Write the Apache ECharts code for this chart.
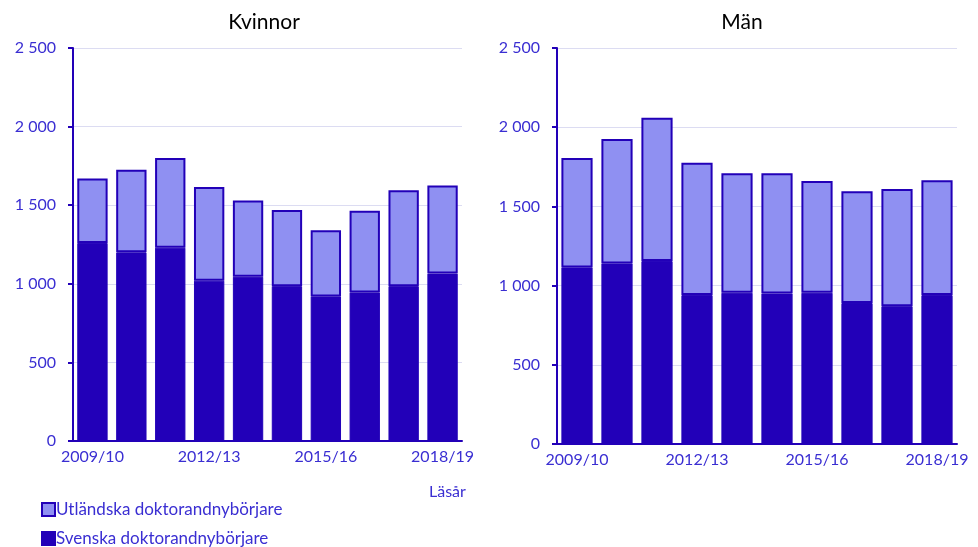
<!DOCTYPE html>
<html>
<head>
<meta charset="utf-8">
<script src="https://cdn.jsdelivr.net/npm/echarts@6/dist/echarts.min.js"></script>
<style>
  html, body { margin: 0; padding: 0; background: #fff; }
  #chart { width: 978px; height: 547px; }
</style>
</head>
<body>
<div id="chart"></div>
<script>
// läsår
var years = ['2009/10', '2010/11', '2011/12', '2012/13', '2013/14', '2014/15', '2015/16', '2016/17', '2017/18', '2018/19'];

// Kvinnor
var kvinnorSvenska = [1260, 1200, 1230, 1020, 1045, 985, 920, 945, 985, 1065];
var kvinnorUtl = [410, 525, 570, 595, 485, 485, 420, 520, 610, 560];

// Män
var manSvenska = [1115, 1140, 1155, 940, 955, 950, 955, 890, 870, 940];
var manUtl = [690, 785, 905, 835, 755, 760, 705, 705, 740, 725];

var dark = '#2200b8';
var light = '#8f90f2';
var textBlue = '#3a2ed2';
var font = 'Lato';

function fmt(v) {
    if (v >= 1000) {
        var r = String(v % 1000);
        while (r.length < 3) r = '0' + r;
        return Math.floor(v / 1000) + ' ' + r;
    }
    return String(v);
}

function xAx(idx) {
    return {
        type: 'category',
        gridIndex: idx,
        data: years,
        axisLine: { lineStyle: { color: dark, width: 2 } },
        axisTick: { show: false },
        axisLabel: { interval: 2, color: textBlue, fontFamily: font, fontSize: 16, margin: 8 }
    };
}

function yAx(idx) {
    return {
        type: 'value',
        gridIndex: idx,
        min: 0, max: 2500, interval: 500,
        axisLine: { show: true, lineStyle: { color: dark, width: 2 } },
        axisTick: { show: true, length: 5, lineStyle: { color: dark, width: 2 } },
        axisLabel: { color: textBlue, fontFamily: font, fontSize: 16, margin: 17, formatter: fmt },
        splitLine: { lineStyle: { color: '#dcdcf2', width: 1 } }
    };
}

function bar(name, data, idx, color, bw) {
    return {
        name: name,
        type: 'bar',
        stack: 's' + idx,
        xAxisIndex: idx,
        yAxisIndex: idx,
        data: data,
        barCategoryGap: '22%',
        itemStyle: { color: color, borderColor: dark, borderWidth: bw }
    };
}

function leg(name, top) {
    return {
        left: 36, top: top,
        icon: 'rect',
        itemWidth: 13, itemHeight: 13,
        data: [name],
        textStyle: { color: textBlue, fontFamily: font, fontSize: 17, padding: [0, 0, 0, -4] }
    };
}

var myChart = echarts.init(document.getElementById('chart'));
var option = {
    animation: false,
    backgroundColor: '#fff',
    title: [
        { text: 'Kvinnor', left: 259, top: 7, textAlign: 'center',
          textStyle: { color: '#000', fontFamily: font, fontSize: 21, fontWeight: 'normal' } },
        { text: 'Män', left: 737, top: 7, textAlign: 'center',
          textStyle: { color: '#000', fontFamily: font, fontSize: 21, fontWeight: 'normal' } }
    ],
    legend: [
        leg('Utländska doktorandnybörjare', 496),
        leg('Svenska doktorandnybörjare', 525)
    ],
    graphic: [
        { type: 'text', left: 429, top: 484,
          style: { text: 'Läsår', fill: textBlue, font: '16px Lato' } }
    ],
    grid: [
        { left: 73, right: 516, top: 48, bottom: 106 },
        { left: 557, right: 21, top: 48, bottom: 103 }
    ],
    xAxis: [xAx(0), xAx(1)],
    yAxis: [yAx(0), yAx(1)],
    series: [
        bar('Svenska doktorandnybörjare', kvinnorSvenska, 0, dark, 1),
        bar('Utländska doktorandnybörjare', kvinnorUtl, 0, light, 2),
        bar('Svenska doktorandnybörjare', manSvenska, 1, dark, 1),
        bar('Utländska doktorandnybörjare', manUtl, 1, light, 2)
    ]
};
myChart.setOption(option);
</script>
</body>
</html>
